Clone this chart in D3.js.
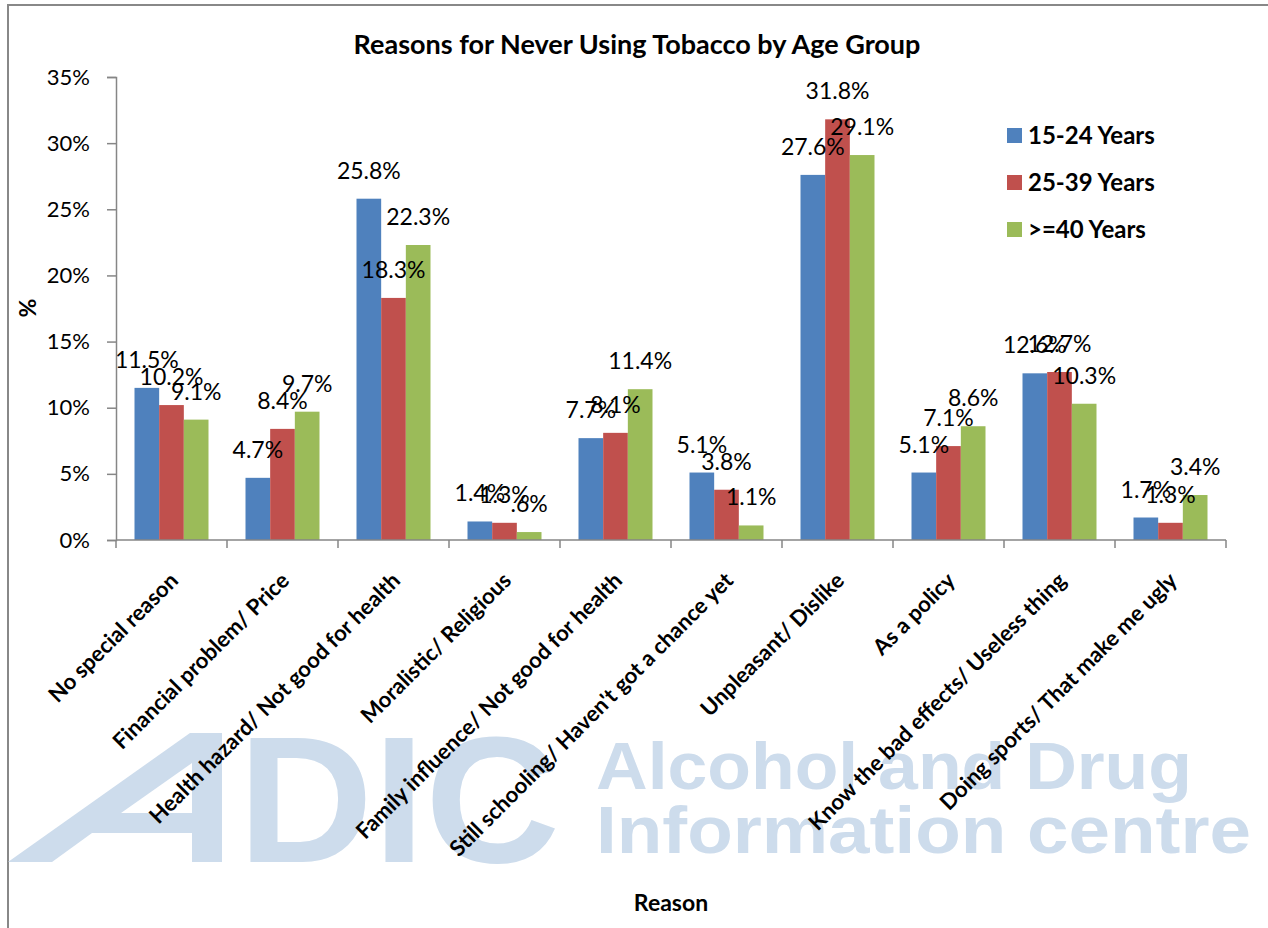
<!DOCTYPE html>
<html>
<head>
    <title>Reasons for Never Using Tobacco by Age Group</title>
    <script src="https://d3js.org/d3.v7.min.js"></script>
    <style>
        body { margin: 0; background: #fff; }
        text { font-family: Lato, "Open Sans", sans-serif; }
    </style>
</head>
<body>
<svg width="1268" height="928"></svg>
<script>
    const categories = [
        "No special reason",
        "Financial problem/ Price",
        "Health hazard/ Not good for health",
        "Moralistic/ Religious",
        "Family influence/ Not good for health",
        "Still schooling/ Haven't got a chance yet",
        "Unpleasant/ Dislike",
        "As a policy",
        "Know the bad effects/ Useless thing",
        "Doing sports/ That make me ugly"
    ];
    const seriesNames = ["15-24 Years", "25-39 Years", ">=40 Years"];
    const age15to24 = [11.5, 4.7, 25.8, 1.4, 7.7, 5.1, 27.6, 5.1, 12.6, 1.7];
    const age25to39 = [10.2, 8.4, 18.3, 1.3, 8.1, 3.8, 31.8, 7.1, 12.7, 1.3];
    const age40plus = [9.1, 9.7, 22.3, 0.6, 11.4, 1.1, 29.1, 8.6, 10.3, 3.4];
    const yTicks = [0, 5, 10, 15, 20, 25, 30, 35];
    const colors = ["#4f81bd", "#c0504d", "#9bbb59"];

    const series = [age15to24, age25to39, age40plus];
    const width = 1268;
    const height = 928;
    const margin = {top: 77, right: 42, bottom: 388, left: 116};

    const svg = d3.select("svg");

    // chart area border (only top and left edges are visible in the frame)
    svg.append("path")
        .attr("d", "M8,928 V5 H1268")
        .attr("fill", "none")
        .attr("stroke", "#888")
        .attr("stroke-width", 2);

    // watermark
    const wm = svg.append("g").attr("fill", "#cddcec");
    wm.append("path")
        .attr("d", "M8,862 L190,733 L222,733 L222,862 L192,862 L192,833 L92,833 L52,862 Z M121,813 L192,813 L192,763 Z")
        .attr("fill-rule", "evenodd");
    wm.append("text")
        .attr("x", 238).attr("y", 862)
        .attr("textLength", 322).attr("lengthAdjust", "spacingAndGlyphs")
        .style("font-family", "'Liberation Sans', Arial, sans-serif")
        .style("font-weight", "bold").style("font-size", "180px")
        .text("DIC");
    wm.append("text")
        .attr("x", 596).attr("y", 789)
        .attr("textLength", 596).attr("lengthAdjust", "spacingAndGlyphs")
        .style("font-family", "'Liberation Sans', Arial, sans-serif")
        .style("font-weight", "bold").style("font-size", "66px")
        .text("Alcohol and Drug");
    wm.append("text")
        .attr("x", 596).attr("y", 853)
        .attr("textLength", 655).attr("lengthAdjust", "spacingAndGlyphs")
        .style("font-family", "'Liberation Sans', Arial, sans-serif")
        .style("font-weight", "bold").style("font-size", "66px")
        .text("Information centre");

    const x0 = d3.scaleBand()
        .domain(categories)
        .range([margin.left, width - margin.right]);

    const x1 = d3.scaleBand()
        .domain(seriesNames)
        .range([0, x0.bandwidth()])
        .paddingOuter(0.75)
        .paddingInner(0);

    const y = d3.scaleLinear()
        .domain([0, 35])
        .range([height - margin.bottom, margin.top]);

    const fmt = v => (v < 1 ? v.toFixed(1).replace(/^0/, "") : v.toFixed(1)) + "%";

    // bars
    const groups = svg.selectAll(".grp")
        .data(categories)
        .enter().append("g")
        .attr("class", "grp")
        .attr("transform", d => "translate(" + x0(d) + ",0)");

    groups.selectAll("rect")
        .data((d, i) => series.map((s, j) => ({name: seriesNames[j], value: s[i], j: j})))
        .enter().append("rect")
        .attr("x", d => x1(d.name))
        .attr("y", d => y(d.value))
        .attr("width", x1.bandwidth())
        .attr("height", d => y(0) - y(d.value))
        .attr("fill", d => colors[d.j]);

    // y axis
    const yAxis = svg.append("g")
        .attr("transform", "translate(" + margin.left + ",0)")
        .call(d3.axisLeft(y).tickValues(yTicks).tickSize(9).tickPadding(17).tickFormat(d => d + "%"));
    yAxis.selectAll("text").style("font-size", "22px").attr("fill", "#000");

    // x axis with tick marks between groups
    const xAxis = svg.append("g")
        .attr("transform", "translate(0," + y(0) + ")");
    xAxis.append("line")
        .attr("x1", margin.left).attr("x2", width - margin.right);
    xAxis.selectAll(".tk")
        .data(categories.concat(["end"]))
        .enter().append("line")
        .attr("class", "tk")
        .attr("x1", (d, i) => i < categories.length ? x0(d) : x0(categories[i - 1]) + x0.bandwidth())
        .attr("x2", (d, i) => i < categories.length ? x0(d) : x0(categories[i - 1]) + x0.bandwidth())
        .attr("y1", 0).attr("y2", 8);

    svg.selectAll(".domain, .tick line").attr("stroke", "#868686").attr("stroke-width", 1.5);
    xAxis.selectAll("line").attr("stroke", "#868686").attr("stroke-width", 1.5);

    // category labels
    svg.selectAll(".cat")
        .data(categories)
        .enter().append("text")
        .attr("class", "cat")
        .attr("transform", d => "translate(" + (x0(d) + x0.bandwidth() / 2 + 8) + "," + (y(0) + 42) + ") rotate(-45)")
        .attr("text-anchor", "end")
        .style("font-size", "22px")
        .style("font-weight", "bold")
        .text(d => d);

    // data labels
    groups.selectAll(".lbl")
        .data((d, i) => series.map((s, j) => ({name: seriesNames[j], value: s[i]})))
        .enter().append("text")
        .attr("class", "lbl")
        .attr("x", d => x1(d.name) + x1.bandwidth() / 2)
        .attr("y", d => y(d.value) - 20)
        .attr("text-anchor", "middle")
        .style("font-size", "23px")
        .text(d => fmt(d.value));

    // title
    svg.append("text")
        .attr("x", 637).attr("y", 54)
        .attr("text-anchor", "middle")
        .style("font-size", "27px").style("font-weight", "bold")
        .text("Reasons for Never Using Tobacco by Age Group");

    // axis titles
    svg.append("text")
        .attr("transform", "translate(36,308) rotate(-90)")
        .attr("text-anchor", "middle")
        .style("font-size", "23px").style("font-weight", "bold")
        .text("%");
    svg.append("text")
        .attr("x", 671).attr("y", 911)
        .attr("text-anchor", "middle")
        .style("font-size", "23px").style("font-weight", "bold")
        .text("Reason");

    // legend
    const legend = svg.selectAll(".leg")
        .data(seriesNames)
        .enter().append("g")
        .attr("class", "leg")
        .attr("transform", (d, i) => "translate(1007," + (128 + i * 47) + ")");
    legend.append("rect")
        .attr("width", 15).attr("height", 15)
        .attr("fill", (d, i) => colors[i]);
    legend.append("text")
        .attr("x", 21).attr("y", 16)
        .style("font-size", "24px").style("font-weight", "bold")
        .text(d => d);
</script>
</body>
</html>
